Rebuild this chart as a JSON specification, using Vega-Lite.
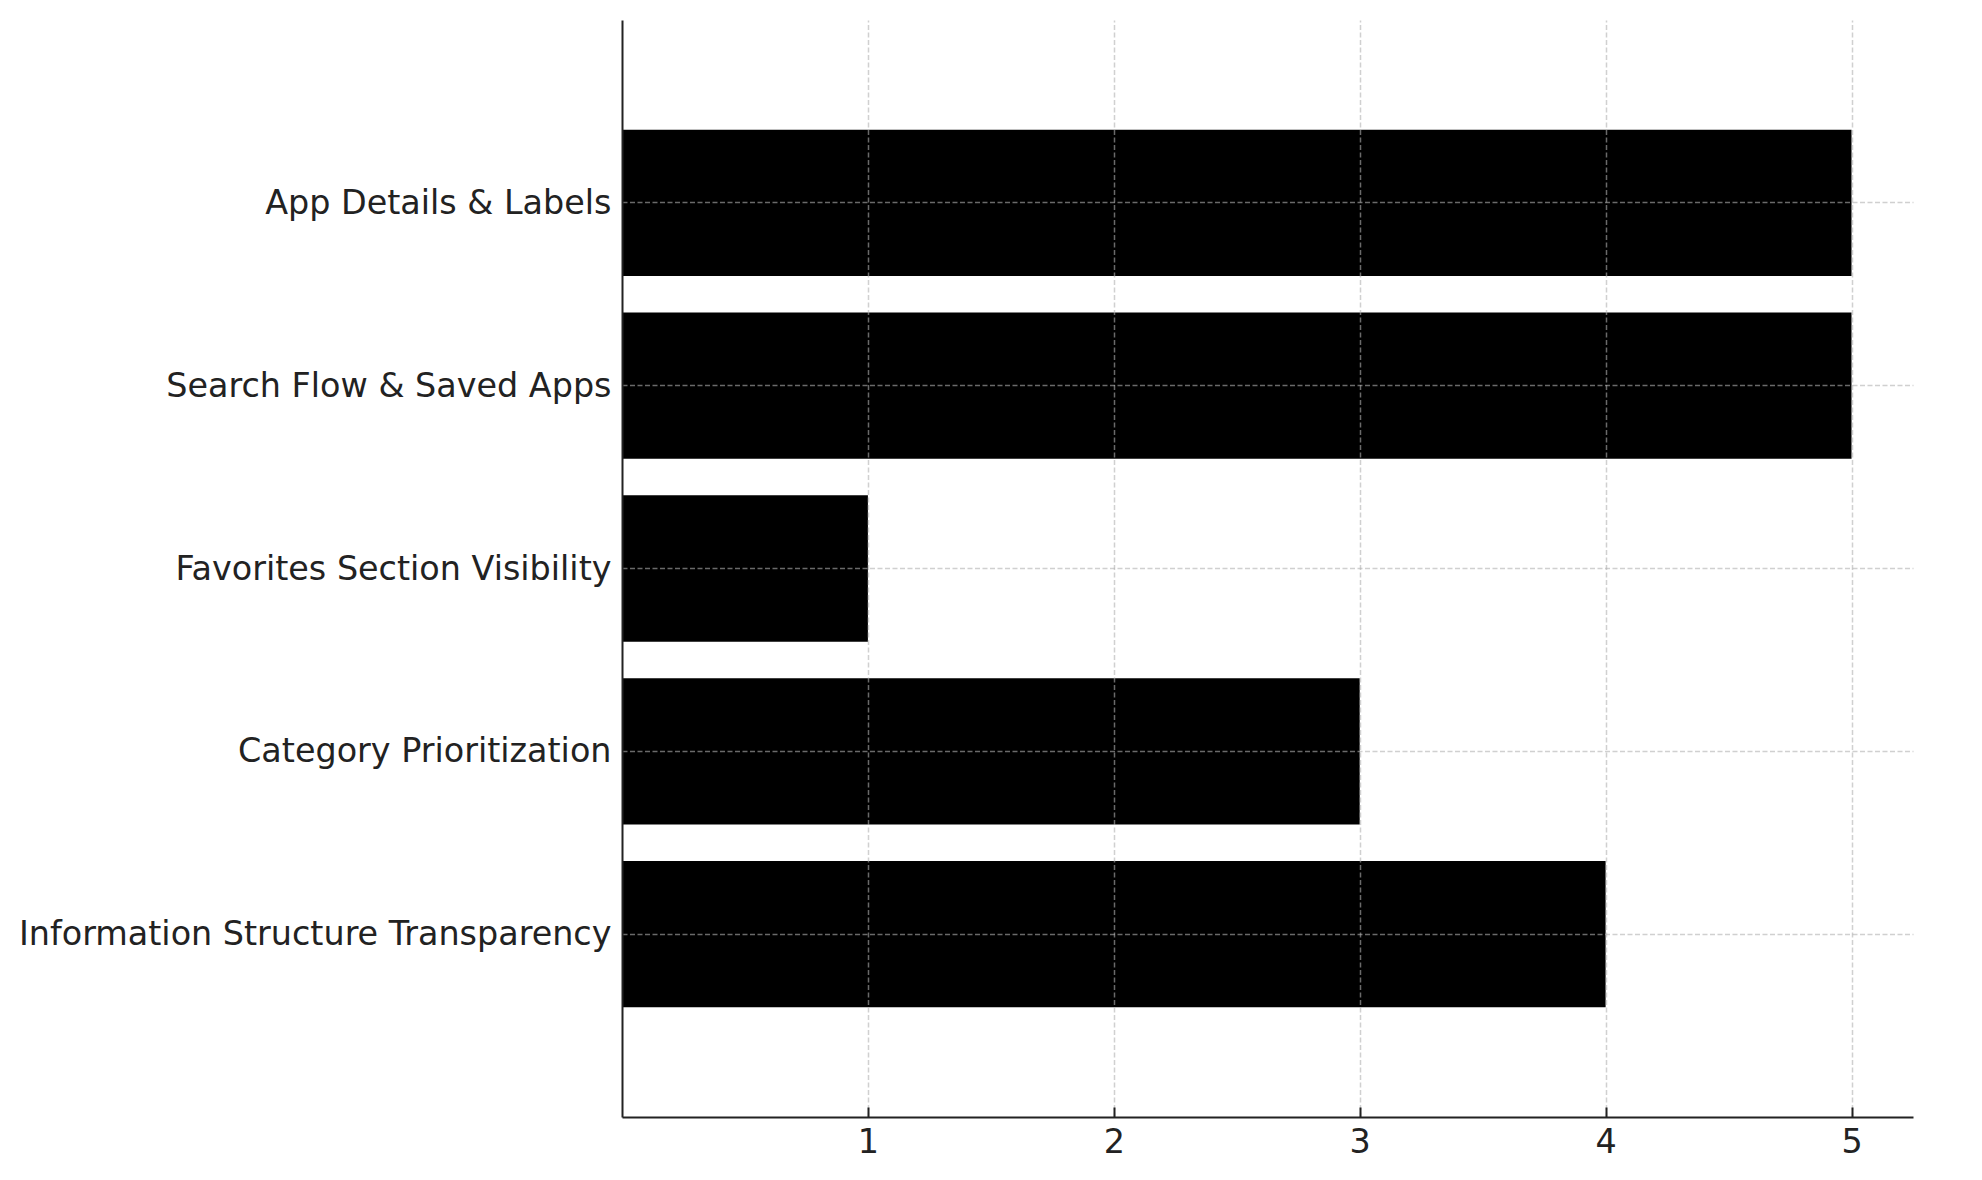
{
  "$schema": "https://vega.github.io/schema/vega-lite/v6.json",
  "width": 1291,
  "height": 1097,
  "autosize": {"type": "none"},
  "padding": {"left": 622, "top": 20, "right": 69, "bottom": 63},
  "background": "white",
  "config": {
    "view": {"stroke": "transparent"},
    "font": "DejaVu Sans",
    "axis": {
      "labelFont": "DejaVu Sans",
      "labelFontSize": 33.4,
      "labelColor": "#222222",
      "domainColor": "#222222",
      "domainWidth": 2,
      "tickColor": "#222222",
      "tickWidth": 2,
      "gridColor": "#b0b0b0",
      "gridOpacity": 0.6,
      "gridWidth": 1.5,
      "gridDash": [5, 2.5]
    }
  },
  "data": {
    "values": [
      {"Aspect": "App Details & Labels", "Score": 5},
      {"Aspect": "Search Flow & Saved Apps", "Score": 5},
      {"Aspect": "Favorites Section Visibility", "Score": 1},
      {"Aspect": "Category Prioritization", "Score": 3},
      {"Aspect": "Information Structure Transparency", "Score": 4}
    ]
  },
  "mark": {"type": "bar", "color": "black"},
  "encoding": {
    "y": {
      "field": "Aspect",
      "type": "nominal",
      "sort": null,
      "scale": {"paddingInner": 0.2, "paddingOuter": 0.6},
      "axis": {
        "title": null,
        "grid": true,
        "ticks": false,
        "labelPadding": 11,
        "labelOffset": 1,
        "labelLimit": 1000,
        "zindex": 1
      }
    },
    "x": {
      "field": "Score",
      "type": "quantitative",
      "scale": {"domain": [0, 5.25], "nice": false, "zero": true},
      "axis": {
        "title": null,
        "values": [1, 2, 3, 4, 5],
        "grid": true,
        "tickSize": -10,
        "labelPadding": 19,
        "zindex": 1
      }
    }
  }
}
